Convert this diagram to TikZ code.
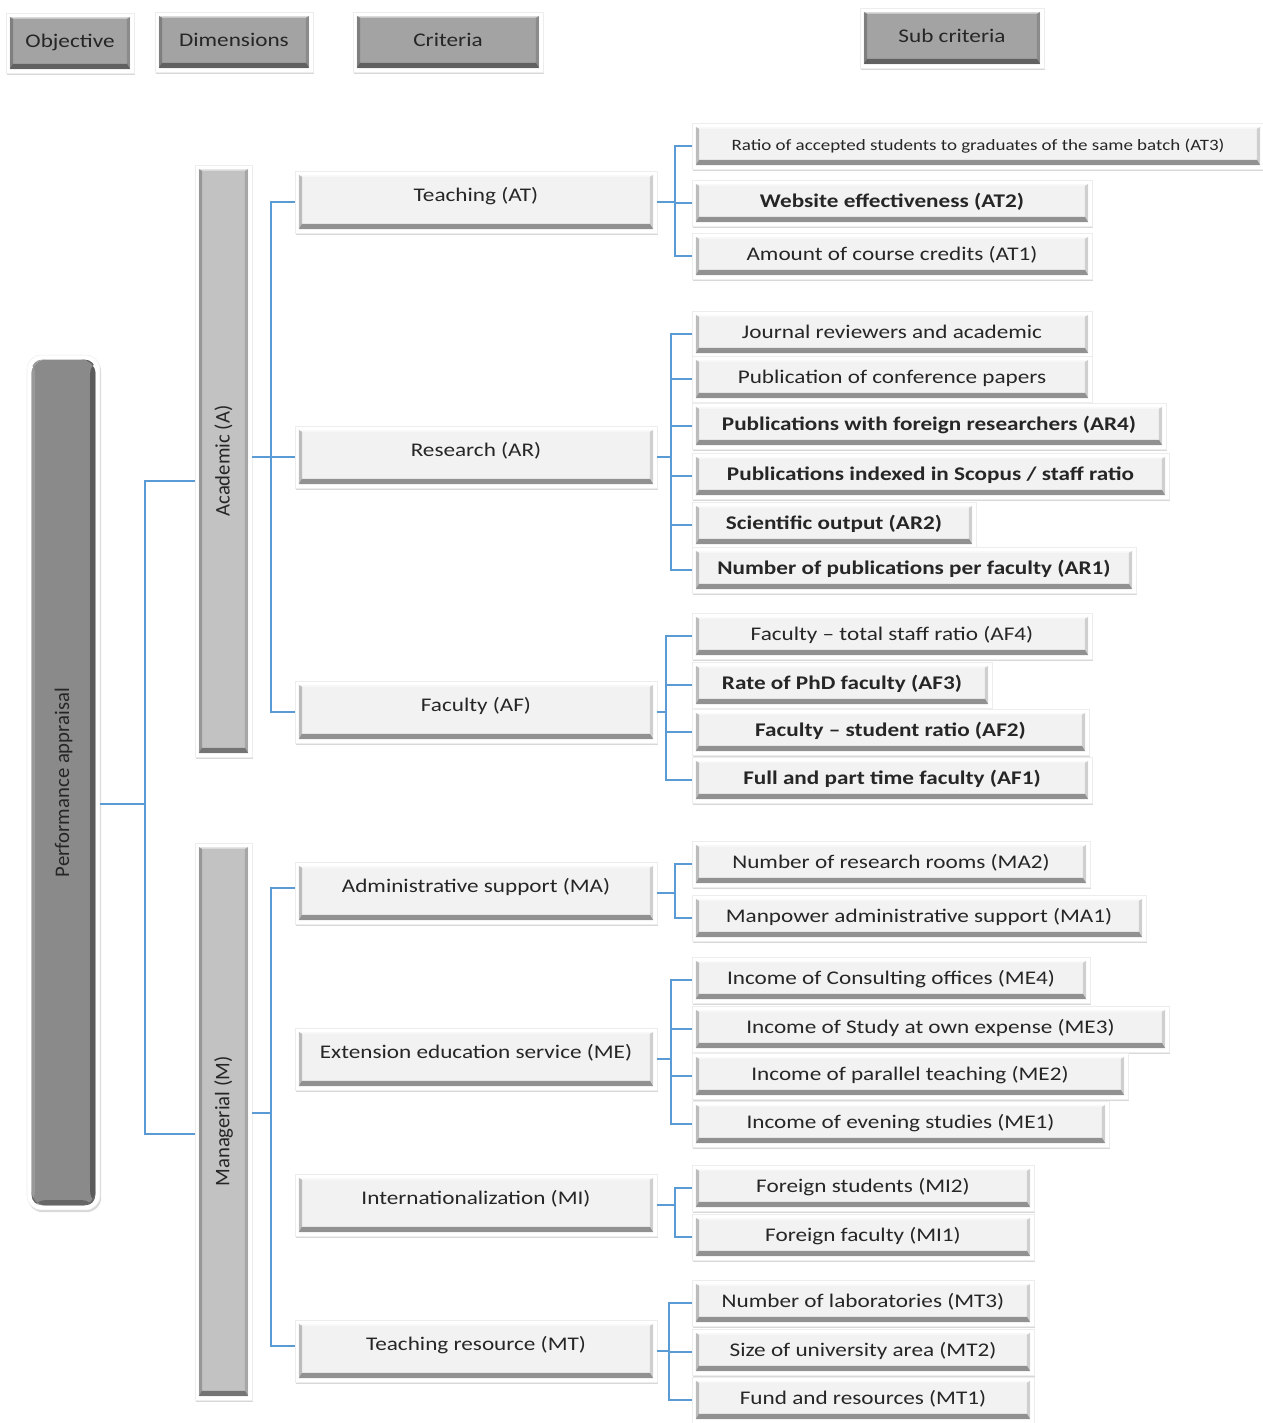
\documentclass[tikz,border=0pt]{standalone}
\usepackage{fontspec}
\setmainfont{Carlito}[FakeStretch=1.2]
\newfontfamily\barfont{Carlito}
\usepackage{graphicx}
\usetikzlibrary{shadows}

\definecolor{linkblue}{HTML}{5B9BD5}
\definecolor{inkgray}{HTML}{262626}

\newcommand{\boxfont}{\fontsize{11}{13}\selectfont}
\newcommand{\smallboxfont}{\fontsize{9}{11}\selectfont}
\newcommand{\barsize}{\barfont\fontsize{11.8}{14}\selectfont}

\tikzset{
  bevel/.style={fill=white, draw=black!7, line width=0.3pt, inner sep=0pt, text=inkgray,
    drop shadow={shadow xshift=0.6pt, shadow yshift=-1.2pt, opacity=0.3},
    path picture={
      \coordinate (bv-sw) at ([shift={(2.2pt,2.2pt)}]path picture bounding box.south west);
      \coordinate (bv-se) at ([shift={(-2.2pt,2.2pt)}]path picture bounding box.south east);
      \coordinate (bv-ne) at ([shift={(-2.2pt,-2.2pt)}]path picture bounding box.north east);
      \coordinate (bv-nw) at ([shift={(2.2pt,-2.2pt)}]path picture bounding box.north west);
      \fill[#1] (bv-sw) rectangle (bv-ne);
      \fill[black, opacity=0.4] (bv-sw) -- (bv-se) -- ([shift={(-1.8pt,3pt)}]bv-se) -- ([shift={(1.8pt,3pt)}]bv-sw) -- cycle;
      \fill[black, opacity=0.22] (bv-sw) -- ([shift={(1.8pt,3pt)}]bv-sw) -- ([shift={(1.8pt,-1pt)}]bv-nw) -- (bv-nw) -- cycle;
      \fill[black, opacity=0.14] (bv-se) -- ([shift={(-1.8pt,3pt)}]bv-se) -- ([shift={(-1.8pt,-1pt)}]bv-ne) -- (bv-ne) -- cycle;
      \fill[white, opacity=0.6] (bv-nw) -- ([shift={(1.8pt,-1pt)}]bv-nw) -- ([shift={(-1.8pt,-1pt)}]bv-ne) -- (bv-ne) -- cycle;
    }},
  perfbar/.style={fill=white, draw=black!7, line width=0.3pt, inner sep=0pt, text=inkgray,
    rounded corners=8pt, font=\barsize,
    drop shadow={shadow xshift=0.6pt, shadow yshift=-1.2pt, opacity=0.3},
    path picture={
      \coordinate (pb-sw) at ([shift={(2.6pt,2.6pt)}]path picture bounding box.south west);
      \coordinate (pb-ne) at ([shift={(-2.6pt,-2.6pt)}]path picture bounding box.north east);
      \coordinate (pb-se) at ([shift={(-2.6pt,2.6pt)}]path picture bounding box.south east);
      \coordinate (pb-nw) at ([shift={(2.6pt,-2.6pt)}]path picture bounding box.north west);
      \begin{scope}
        \clip[rounded corners=6pt] (pb-sw) rectangle (pb-ne);
        \fill[black!46] (pb-sw) rectangle (pb-ne);
        \fill[black!40] (pb-sw) rectangle ([xshift=2pt]pb-nw);
        \fill[black!64] ([xshift=-3pt]pb-se) rectangle (pb-ne);
        \fill[black!60] (pb-sw) rectangle ([yshift=3pt]pb-se);
      \end{scope}
    }},
  headbox/.style={bevel=black!36, font=\boxfont, minimum height=12mm, text height=8pt, text depth=3pt},
  critbox/.style={bevel=black!5, font=\boxfont, minimum width=72.4mm, minimum height=12.4mm, text height=7pt, text depth=8pt},
  subcrit/.style={bevel=black!5, font=\boxfont, minimum height=9.2mm, text height=8pt, text depth=3pt},
  subbold/.style={subcrit, font=\boxfont\bfseries},
  dimbar/.style={bevel=black!24, font=\barsize, minimum width=11.4mm},
  bluelink/.style={draw=linkblue, line width=0.75pt},
}

\begin{document}
\begin{tikzpicture}[x=0.02cm, y=-0.02cm]
\useasboundingbox[fill=white] (0,0) rectangle (1263,1423);

% level headers
\node[headbox, minimum width=25.6mm] (hObj) at (70,43) {Objective};
\node[headbox, minimum width=31.6mm] (hDim) at (234,42) {Dimensions};
\node[headbox, minimum width=38mm] (hCrit) at (448,42) {Criteria};
\node[headbox, minimum width=36.8mm] (hSub) at (952,38) {Sub criteria};

% objective and dimensions
\node[perfbar, minimum width=14.6mm, minimum height=171mm] (perf) at (63.5,782.5) {\rotatebox{90}{Performance appraisal}};
\node[dimbar, minimum height=118.4mm] (aca) at (223.5,461) {\rotatebox{90}{Academic (A)}};
\node[dimbar, minimum height=111.4mm] (man) at (223.5,1121.5) {\rotatebox{90}{Managerial (M)}};

% criteria
\node[critbox] (cAT) at (476,202) {Teaching (AT)};
\node[critbox] (cAR) at (476,457) {Research (AR)};
\node[critbox] (cAF) at (476,712) {Faculty (AF)};
\node[critbox] (cMA) at (476,893) {Administrative support (MA)};
\node[critbox] (cME) at (476,1059) {Extension education service (ME)};
\node[critbox] (cMI) at (476,1205) {Internationalization (MI)};
\node[critbox] (cMT) at (476,1351) {Teaching resource (MT)};

% sub criteria: teaching
\node[subcrit, font=\smallboxfont, minimum width=114.4mm] (AT3) at (978,146) {Ratio of accepted students to graduates of the same batch (AT3)};
\node[subbold, minimum width=80mm] (AT2) at (892,203) {Website effectiveness (AT2)};
\node[subcrit, minimum width=80mm] (AT1) at (892,256) {Amount of course credits (AT1)};
% research
\node[subcrit, minimum width=80mm] (ARj) at (892,334) {Journal reviewers and academic};
\node[subcrit, minimum width=80mm] (ARc) at (892,379) {Publication of conference papers};
\node[subbold, minimum width=94.8mm] (AR4) at (929,426) {Publications with foreign researchers (AR4)};
\node[subbold, minimum width=95.4mm] (ARs) at (930.5,476) {Publications indexed in Scopus / staff ratio};
\node[subbold, minimum width=56.8mm] (AR2) at (834,525) {Scientific output (AR2)};
\node[subbold, minimum width=88.8mm] (AR1) at (914,570) {Number of publications per faculty (AR1)};
% faculty
\node[subcrit, minimum width=80mm] (AF4) at (892,636) {Faculty -- total staff ratio (AF4)};
\node[subbold, minimum width=60mm] (AF3) at (842,685) {Rate of PhD faculty (AF3)};
\node[subbold, minimum width=79.4mm] (AF2) at (890.5,732) {Faculty -- student ratio (AF2)};
\node[subbold, minimum width=80mm] (AF1) at (892,780) {Full and part time faculty (AF1)};
% administrative support
\node[subcrit, minimum width=79.6mm] (MA2) at (891,864) {Number of research rooms (MA2)};
\node[subcrit, minimum width=90.8mm] (MA1) at (919,918) {Manpower administrative support (MA1)};
% extension education
\node[subcrit, minimum width=79.6mm] (ME4) at (891,980) {Income of Consulting offices (ME4)};
\node[subcrit, minimum width=95.4mm] (ME3) at (930.5,1029) {Income of Study at own expense (ME3)};
\node[subcrit, minimum width=87.2mm] (ME2) at (910,1076) {Income of parallel teaching (ME2)};
\node[subcrit, minimum width=83.4mm] (ME1) at (900.5,1124) {Income of evening studies (ME1)};
% internationalization
\node[subcrit, minimum width=68.4mm] (MI2) at (863,1188) {Foreign students (MI2)};
\node[subcrit, minimum width=68.4mm] (MI1) at (863,1237) {Foreign faculty (MI1)};
% teaching resource
\node[subcrit, minimum width=68.4mm] (MT3) at (863,1303) {Number of laboratories (MT3)};
\node[subcrit, minimum width=68.4mm] (MT2) at (863,1352) {Size of university area (MT2)};
\node[subcrit, minimum width=68.4mm] (MT1) at (863,1400) {Fund and resources (MT1)};

% connectors
\coordinate (busO) at (145,804);
\draw[bluelink] (perf.east |- busO) -- (busO);
\draw[bluelink] ([shift={(0,20)}]aca.west) -| (busO) |- ([shift={(0,12.5)}]man.west);

\coordinate (busA) at (271,457);
\draw[bluelink] (aca.east |- cAR) -- (cAR.west);
\draw[bluelink] (cAT.west) -| (busA) |- (cAF.west);

\coordinate (busM) at (271,1113);
\draw[bluelink] (man.east |- busM) -- (busM);
\draw[bluelink] ([shift={(0,-5)}]cMA.west) -| (busM) |- ([shift={(0,-5)}]cMT.west);

\coordinate (busAT) at (675,202);
\draw[bluelink] (cAT.east) -- (busAT);
\foreach \s in {AT3,AT2,AT1} \draw[bluelink] (\s.west) -| (busAT);

\coordinate (busAR) at (671,457);
\draw[bluelink] (cAR.east) -- (busAR);
\foreach \s in {ARj,ARc,AR4,ARs,AR2,AR1} \draw[bluelink] (\s.west) -| (busAR);

\coordinate (busAF) at (666,712);
\draw[bluelink] (cAF.east) -- (busAF);
\foreach \s in {AF4,AF3,AF2,AF1} \draw[bluelink] (\s.west) -| (busAF);

\coordinate (busMA) at (675,893);
\draw[bluelink] (cMA.east) -- (busMA);
\foreach \s in {MA2,MA1} \draw[bluelink] (\s.west) -| (busMA);

\coordinate (busME) at (671,1059);
\draw[bluelink] (cME.east) -- (busME);
\foreach \s in {ME4,ME3,ME2,ME1} \draw[bluelink] (\s.west) -| (busME);

\coordinate (busMI) at (675,1205);
\draw[bluelink] (cMI.east) -- (busMI);
\foreach \s in {MI2,MI1} \draw[bluelink] (\s.west) -| (busMI);

\coordinate (busMT) at (669,1351);
\draw[bluelink] (cMT.east) -- (busMT);
\foreach \s in {MT3,MT2,MT1} \draw[bluelink] (\s.west) -| (busMT);
\end{tikzpicture}
\end{document}
